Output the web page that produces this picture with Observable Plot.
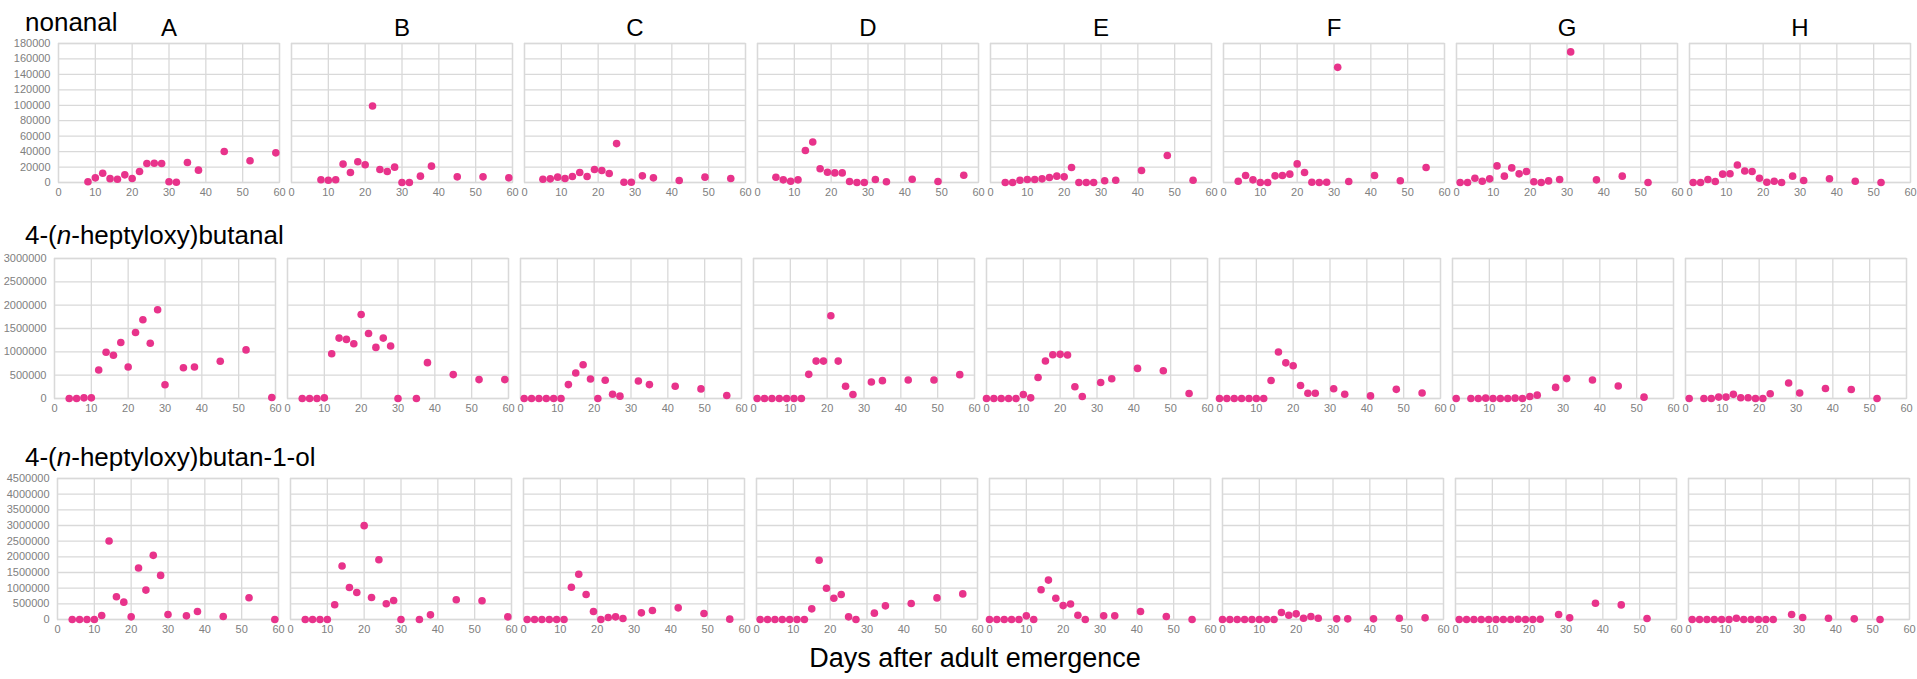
<!DOCTYPE html>
<html><head><meta charset="utf-8">
<script src="https://cdn.jsdelivr.net/npm/d3@7"></script>
<script src="https://cdn.jsdelivr.net/npm/@observablehq/plot@0.6"></script>
<style>
body{margin:0;background:#fff;font-family:"Liberation Sans",Arial,sans-serif;}
#root{position:relative;width:1917px;height:679px;overflow:hidden;background:#fff;}
.lbl{position:absolute;font-size:26px;line-height:26px;color:#000;white-space:nowrap;}
.row{position:absolute;left:0;}
</style></head><body><div id="root"></div>
<script>
const panels = ["A","B","C","D","E","F","G","H"];
const xTicks = [0,10,20,30,40,50,60];
const yTicksNonanal = [0,20000,40000,60000,80000,100000,120000,140000,160000,180000];
const yTicksButanal = [0,500000,1000000,1500000,2000000,2500000,3000000];
const yTicksButanol = [0,500000,1000000,1500000,2000000,2500000,3000000,3500000,4000000,4500000];
const rowTitles = ["nonanal","4-(<i>n</i>-heptyloxy)butanal","4-(<i>n</i>-heptyloxy)butan-1-ol"];
const xTitle = "Days after adult emergence";

// nonanal
const nonanalDays = {
  A:[8,10,12,14,16,18,20,22,24,26,28,30,32,35,38,45,52,59],
  B:[8,10,12,14,16,18,20,22,24,26,28,30,32,35,38,45,52,59],
  C:[5,7,9,11,13,15,17,19,21,23,25,27,29,32,35,42,49,56],
  D:[5,7,9,11,13,15,17,19,21,23,25,27,29,32,35,42,49,56],
  E:[4,6,8,10,12,14,16,18,20,22,24,26,28,31,34,41,48,55],
  F:[4,6,8,10,12,14,16,18,20,22,24,26,28,31,34,41,48,55],
  G:[1,3,5,7,9,11,13,15,17,19,21,23,25,28,31,38,45,52],
  H:[1,3,5,7,9,11,13,15,17,19,21,23,25,28,31,38,45,52]
};
const nonanalValues = {
  A:[1000,6000,12000,5000,4300,9900,5200,14300,24600,25000,24600,900,400,25900,16000,40200,28100,38400],
  B:[3500,3000,3500,23800,13000,26800,22900,99000,16800,14300,19900,0,0,8200,21200,7300,7300,6000],
  C:[4300,4700,6900,5200,7800,12900,7800,16800,15500,11600,50400,400,400,8600,6000,2600,6900,5200],
  D:[6800,3400,1700,3400,41400,52500,17900,13200,12400,12400,1300,0,0,3800,900,4300,1300,9400],
  E:[0,0,3000,3900,3900,4700,6500,8200,7300,19400,0,0,0,2200,3000,15500,34900,3000],
  F:[1700,9100,3400,0,0,8600,9100,10800,24100,12900,400,0,400,149100,1300,9100,2200,19400],
  G:[0,0,5600,1700,4700,21500,8200,18900,11200,14200,900,0,2100,3900,169100,3400,8200,0],
  H:[0,0,3900,1300,10800,11300,22600,14800,14300,5600,400,1700,0,8200,2600,4800,1700,0]
};

// 4-(n-heptyloxy)butanal
const butanalDays = {
  A:[4,6,8,10,12,14,16,18,20,22,24,26,28,30,35,38,45,52,59],
  B:[4,6,8,10,12,14,16,18,20,22,24,26,28,30,35,38,45,52,59],
  C:[1,3,5,7,9,11,13,15,17,19,21,23,25,27,32,35,42,49,56],
  D:[1,3,5,7,9,11,13,15,17,19,21,23,25,27,32,35,42,49,56],
  E:[0,2,4,6,8,10,12,14,16,18,20,22,24,26,31,34,41,48,55],
  F:[0,2,4,6,8,10,12,14,16,18,20,22,24,26,31,34,41,48,55],
  G:[1,5,7,9,11,13,15,17,19,21,23,28,31,38,45,52],
  H:[1,5,7,9,11,13,15,17,19,21,23,28,31,38,45,52]
};
const butanalValues = {
  A:[0,0,14000,14000,610000,990000,926000,1199000,675000,1414000,1687000,1184000,1902000,294000,660000,675000,797000,1041000,22000],
  B:[0,0,0,14000,960000,1294000,1266000,1174000,1800000,1394000,1095000,1294000,1124000,0,0,768000,512000,405000,405000],
  C:[0,0,0,0,0,0,298000,546000,723000,418000,0,390000,92000,50000,376000,298000,262000,206000,64000],
  D:[0,0,0,0,0,0,0,518000,801000,801000,1773000,801000,262000,85000,355000,383000,397000,397000,511000],
  E:[0,0,0,0,0,86000,14000,451000,802000,938000,946000,931000,251000,43000,344000,423000,645000,595000,107000],
  F:[0,0,0,0,0,0,0,386000,996000,764000,701000,280000,112000,112000,210000,91000,56000,196000,119000],
  G:[0,0,0,7000,0,0,0,7000,0,43000,72000,238000,426000,397000,267000,29000],
  H:[0,0,0,30000,30000,89000,15000,15000,0,0,103000,332000,118000,214000,192000,0]
};

// 4-(n-heptyloxy)butan-1-ol
const butanolDays = {
  A:[4,6,8,10,12,14,16,18,20,22,24,26,28,30,35,38,45,52,59],
  B:[4,6,8,10,12,14,16,18,20,22,24,26,28,30,35,38,45,52,59],
  C:[1,3,5,7,9,11,13,15,17,19,21,23,25,27,32,35,42,49,56],
  D:[1,3,5,7,9,11,13,15,17,19,21,23,25,27,32,35,42,49,56],
  E:[0,2,4,6,8,10,12,14,16,18,20,22,24,26,31,34,41,48,55],
  F:[0,2,4,6,8,10,12,14,16,18,20,22,24,26,31,34,41,48,55],
  G:[1,3,5,7,9,11,13,15,17,19,21,23,28,31,38,45,52],
  H:[1,3,5,7,9,11,13,15,17,19,21,23,28,31,38,45,52]
};
const butanolValues = {
  A:[0,0,0,0,128000,2505000,725000,554000,85000,1642000,938000,2047000,1407000,160000,117000,256000,96000,693000,0],
  B:[0,0,0,0,469000,1706000,1023000,864000,2996000,704000,1908000,501000,608000,0,0,149000,629000,597000,85000],
  C:[0,0,0,0,0,0,1030000,1444000,796000,255000,0,64000,85000,32000,212000,287000,372000,191000,11000],
  D:[0,0,0,0,0,0,0,340000,1890000,998000,679000,796000,85000,0,202000,435000,510000,690000,817000],
  E:[0,0,0,0,0,116000,0,951000,1258000,677000,444000,497000,137000,0,116000,116000,254000,95000,0],
  F:[0,0,0,0,0,0,0,0,222000,137000,180000,42000,95000,42000,21000,21000,21000,42000,53000],
  G:[0,0,0,0,0,0,0,0,10000,0,0,10000,159000,53000,519000,466000,32000],
  H:[0,0,0,0,0,0,42000,0,0,0,0,0,159000,64000,42000,21000,0]
};

const root = document.getElementById("root");
const GRID = "#d9d9d9";
const DOT = "#e8338b";

function rowData(days, vals) {
  return panels.flatMap(p => days[p].map((d, i) => ({panel: p, day: d, value: vals[p][i]})));
}

function makeRow({days, vals, yTicks, top, plotH, marginLeft, marginRight, letters}) {
  const mt = letters ? 43 : 10;
  const mb = 24;
  const data = rowData(days, vals);
  const marks = [
    Plot.gridX(xTicks, {stroke: GRID, strokeOpacity: 1, strokeWidth: 1.3}),
    Plot.gridY(yTicks, {stroke: GRID, strokeOpacity: 1, strokeWidth: 1.3}),
    Plot.frame({stroke: GRID, strokeWidth: 1.3}),
    Plot.axisX(xTicks, {tickSize: 0, tickPadding: 6, label: null, fill: "#808080"}),
    Plot.axisY(yTicks, {tickSize: 0, tickPadding: 8, label: null, fill: "#808080", tickFormat: d3.format("d")}),
    Plot.dot(data, {fx: "panel", x: "day", y: "value", r: 3.8, fill: DOT, stroke: "none"})
  ];
  if (letters) {
    marks.push(Plot.axisFx({anchor: "top", tickSize: 0, tickPadding: 8, label: null, fill: "#000", fontSize: 24}));
  }
  const opts = {
    width: 1917,
    height: mt + plotH + mb,
    marginTop: mt, marginBottom: mb, marginLeft, marginRight,
    style: {background: "transparent", color: "#808080", fontFamily: "'Liberation Sans', Arial, sans-serif", fontSize: "11px", overflow: "visible"},
    fx: {domain: panels, paddingInner: 0.052, paddingOuter: 0},
    x: {domain: [0, 60]},
    y: {domain: [yTicks[0], yTicks[yTicks.length - 1]]},
    marks
  };
  if (!letters) opts.fx.axis = null;
  const svg = Plot.plot(opts);
  const div = document.createElement("div");
  div.className = "row";
  div.style.top = (top - mt) + "px";
  div.appendChild(svg);
  root.appendChild(div);
}

makeRow({days: nonanalDays, vals: nonanalValues, yTicks: yTicksNonanal, top: 43, plotH: 139, marginLeft: 57, marginRight: 7, letters: true});
makeRow({days: butanalDays, vals: butanalValues, yTicks: yTicksButanal, top: 258, plotH: 140, marginLeft: 51, marginRight: 9, letters: false});
makeRow({days: butanolDays, vals: butanolValues, yTicks: yTicksButanol, top: 478, plotH: 141, marginLeft: 54, marginRight: 5, letters: false});

const titleTops = [9, 222, 444];
rowTitles.forEach((t, i) => {
  const d = document.createElement("div");
  d.className = "lbl";
  d.style.left = "25px";
  d.style.top = titleTops[i] + "px";
  d.innerHTML = t;
  root.appendChild(d);
});
const xt = document.createElement("div");
xt.className = "lbl";
xt.style.left = "0px";
xt.style.width = "1950px";
xt.style.textAlign = "center";
xt.style.top = "645px";
xt.style.fontSize = "27px";
xt.textContent = xTitle;
root.appendChild(xt);
</script></body></html>
